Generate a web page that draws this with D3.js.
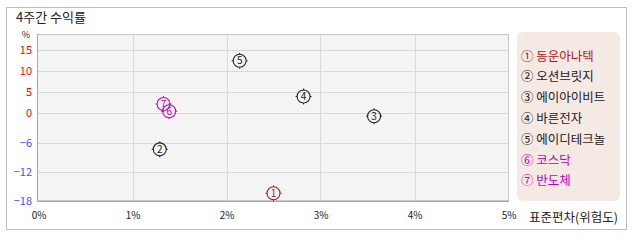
<!DOCTYPE html>
<html>
<head>
<meta charset="utf-8">
<script src="https://cdn.jsdelivr.net/npm/d3@7"></script>
<style>
  body { margin: 0; background: #fff; }
  svg text { font-family: "Noto Sans CJK KR", "DejaVu Sans", sans-serif; }
</style>
</head>
<body>
<svg id="chart" width="638" height="242"></svg>
<script>
//////////////////// DATA ////////////////////
const names = ["동운아나텍", "오션브릿지", "에이아이비트", "바른전자", "에이디테크놀", "코스닥", "반도체"];
const marks = ["①", "②", "③", "④", "⑤", "⑥", "⑦"];
const risk = [2.50, 1.29, 3.57, 2.82, 2.14, 1.39, 1.33];     // 표준편차 %
const returns = [-16.4, -7.4, -0.6, 4.0, 12.5, 0.5, 2.2];    // 4주 수익률 %
const groups = ["stock", "other", "other", "other", "other", "index", "index"];

const xTicks = [0, 1, 2, 3, 4, 5];
const yTicks = [15, 10, 5, 0, -6, -12, -18];

//////////////////// SIZES ////////////////////
const plot = { left: 37, right: 509, top: 34, bottom: 201 };
const colorOf = { stock: "#b01818", other: "#222", index: "#c000c0" };

const svg = d3.select("#chart");

// outer frame
svg.append("rect")
    .attr("x", 6.5).attr("y", 7.5)
    .attr("width", 620).attr("height", 222)
    .attr("fill", "#fff")
    .attr("stroke", "#bdbdbd");

// title
svg.append("text")
    .attr("x", 16).attr("y", 22)
    .attr("font-size", 13)
    .attr("fill", "#222")
    .text("4주간 수익률");

//////////////////// SCALES ////////////////////
const x = d3.scaleLinear().domain([0, 5]).range([38.5, 508.5]);
// positive and negative halves use different spacing
const y = d3.scaleLinear().domain([-18, 0, 15]).range([201, 113.3, 50.3]);

//////////////////// PLOT AREA ////////////////////
svg.append("rect")
    .attr("x", plot.left).attr("y", plot.top)
    .attr("width", plot.right - plot.left).attr("height", plot.bottom - plot.top)
    .attr("fill", "#f4f4f4");

// grid
svg.append("g").selectAll("line")
    .data(xTicks.slice(1, -1))
    .join("line")
    .attr("x1", d => Math.round(x(d)) + 0.5).attr("x2", d => Math.round(x(d)) + 0.5)
    .attr("y1", plot.top).attr("y2", plot.bottom)
    .attr("stroke", "#d9d9d9");

svg.append("g").selectAll("line")
    .data(yTicks.slice(0, -1))
    .join("line")
    .attr("x1", plot.left).attr("x2", plot.right)
    .attr("y1", d => Math.round(y(d)) + 0.5).attr("y2", d => Math.round(y(d)) + 0.5)
    .attr("stroke", "#d9d9d9");

// plot border
svg.append("rect")
    .attr("x", plot.left + 0.5).attr("y", plot.top + 0.5)
    .attr("width", plot.right - plot.left - 1).attr("height", plot.bottom - plot.top - 1)
    .attr("fill", "none")
    .attr("stroke", "#c8c8c8");
svg.append("path")
    .attr("d", `M${plot.left + 0.5},${plot.top}V${plot.bottom + 0.5}H${plot.right}`)
    .attr("fill", "none")
    .attr("stroke", "#a8a8a8");

//////////////////// AXES ////////////////////
const yAxis = d3.axisLeft(y).tickValues(yTicks).tickSize(0).tickPadding(5);
const yG = svg.append("g")
    .attr("transform", `translate(${plot.left},0)`)
    .call(yAxis);
yG.select(".domain").remove();
yG.selectAll("text")
    .attr("font-size", 11)
    .attr("font-family", "\"DejaVu Sans\", sans-serif")
    .attr("fill", d => d >= 0 ? "#ff0000" : "#4a4aff");

svg.append("text")
    .attr("x", 26).attr("y", 38)
    .attr("text-anchor", "middle")
    .attr("font-size", 9)
    .attr("font-family", "\"DejaVu Sans\", sans-serif")
    .attr("fill", "#222")
    .text("%");

const xAxis = d3.axisBottom(x).tickValues(xTicks).tickSize(0).tickPadding(11)
    .tickFormat(d => d + "%");
const xG = svg.append("g")
    .attr("transform", `translate(0,${plot.bottom})`)
    .call(xAxis);
xG.select(".domain").remove();
xG.selectAll("text")
    .attr("font-size", 10)
    .attr("font-family", "\"DejaVu Sans\", sans-serif")
    .attr("fill", "#222");

svg.append("text")
    .attr("x", 529).attr("y", 222)
    .attr("font-size", 12.5)
    .attr("fill", "#222")
    .text("표준편차(위험도)");

//////////////////// MARKERS ////////////////////
const points = names.map((n, i) => ({
    i: i, mark: i + 1, x: risk[i], y: returns[i], color: colorOf[groups[i]]
}));
const order = [0, 1, 2, 3, 4, 6, 5];
const r = 6.5;

const pts = svg.append("g").selectAll("g")
    .data(order.map(i => points[i]))
    .join("g")
    .attr("transform", d => `translate(${x(d.x)},${y(d.y)})`);

pts.append("circle")
    .attr("r", r)
    .attr("fill", "none")
    .attr("stroke", d => d.color)
    .attr("stroke-width", 1.1);

pts.append("path")
    .attr("d", `M0,${-r - 1.5}V${-r}M0,${r}V${r + 1.5}M${-r - 1.5},0H${-r}M${r},0H${r + 1.5}`)
    .attr("stroke", d => d.color)
    .attr("stroke-width", 1);

pts.append("text")
    .attr("text-anchor", "middle")
    .attr("dy", "0.36em")
    .attr("font-size", 10)
    .attr("font-family", "\"DejaVu Sans\", sans-serif")
    .attr("fill", d => d.color)
    .text(d => d.mark);

//////////////////// LEGEND ////////////////////
svg.append("rect")
    .attr("x", 517).attr("y", 32)
    .attr("width", 103).attr("height", 169)
    .attr("rx", 6)
    .attr("fill", "#f5e9e3");

svg.append("g").selectAll("text")
    .data(points)
    .join("text")
    .attr("x", 521)
    .attr("y", (d, i) => 60.5 + i * 20.8)
    .attr("font-size", 12.5)
    .attr("fill", d => d.color)
    .text(d => marks[d.i] + " " + names[d.i]);
</script>
</body>
</html>
